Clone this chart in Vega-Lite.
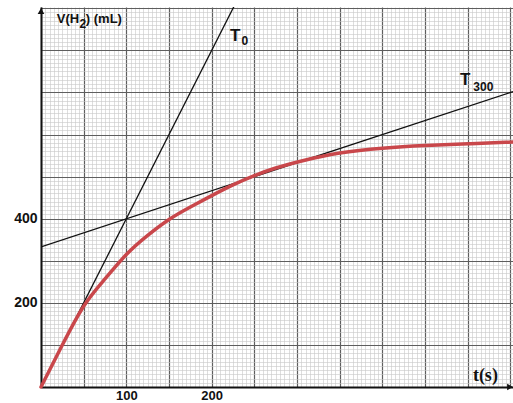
{
  "$schema": "https://vega.github.io/schema/vega-lite/v6.json",
  "width": 472,
  "height": 380,
  "autosize": {"type": "none"},
  "padding": {"left": 41, "top": 7, "right": 0, "bottom": 16},
  "background": "white",
  "config": {"view": {"stroke": null}},
  "datasets": {
    "curve": [
      {"t": 0, "v": 0}, {"t": 25, "v": 100}, {"t": 50, "v": 199}, {"t": 75, "v": 256},
      {"t": 100, "v": 318}, {"t": 125, "v": 361}, {"t": 150, "v": 400}, {"t": 175, "v": 428},
      {"t": 200, "v": 455}, {"t": 225, "v": 481}, {"t": 250, "v": 503}, {"t": 275, "v": 521},
      {"t": 300, "v": 535}, {"t": 350, "v": 558}, {"t": 400, "v": 568}, {"t": 450, "v": 574},
      {"t": 500, "v": 578}, {"t": 553, "v": 582}
    ],
    "tangents": [
      {"name": "T0", "t": 0, "v": 0}, {"name": "T0", "t": 226, "v": 904},
      {"name": "T300", "t": 0, "v": 333}, {"name": "T300", "t": 553, "v": 702}
    ]
  },
  "layer": [
    {
      "data": {"name": "tangents"},
      "mark": {"type": "line", "color": "#111111", "strokeWidth": 1.3, "clip": true},
      "encoding": {
        "x": {"field": "t", "type": "quantitative", "scale": {"domain": [0, 553], "nice": false},
          "axis": {"orient": "bottom", "title": null, "labels": false, "ticks": false, "domain": false,
            "grid": true, "gridColor": "#c8c8c8", "gridWidth": 0.6,
            "values": [5,10,15,20,25,30,35,40,45,55,60,65,70,75,80,85,90,95,105,110,115,120,125,130,135,140,145,155,160,165,170,175,180,185,190,195,205,210,215,220,225,230,235,240,245,255,260,265,270,275,280,285,290,295,305,310,315,320,325,330,335,340,345,355,360,365,370,375,380,385,390,395,405,410,415,420,425,430,435,440,445,455,460,465,470,475,480,485,490,495,505,510,515,520,525,530,535,540,545]}},
        "y": {"field": "v", "type": "quantitative", "scale": {"domain": [0, 903], "nice": false},
          "axis": {"orient": "left", "title": null, "labels": false, "ticks": false, "domain": false,
            "grid": true, "gridColor": "#c8c8c8", "gridWidth": 0.6,
            "values": [10,20,30,40,50,60,70,80,90,110,120,130,140,150,160,170,180,190,210,220,230,240,250,260,270,280,290,310,320,330,340,350,360,370,380,390,410,420,430,440,450,460,470,480,490,510,520,530,540,550,560,570,580,590,610,620,630,640,650,660,670,680,690,710,720,730,740,750,760,770,780,790,810,820,830,840,850,860,870,880,890]}},
        "detail": {"field": "name"}
      }
    },
    {
      "data": {"name": "curve"},
      "mark": {"type": "line", "color": "#c9474b", "strokeWidth": 3.5, "interpolate": "basis", "strokeCap": "round"},
      "encoding": {
        "x": {"field": "t", "type": "quantitative", "scale": {"domain": [0, 553], "nice": false},
          "axis": {"orient": "bottom", "title": null, "ticks": false, "domain": true, "domainColor": "#111111", "domainWidth": 2,
            "grid": true, "gridColor": "#5e5e5e", "gridWidth": 1.2,
            "values": [0,50,100,150,200,250,300,350,400,450,500,550],
            "labelExpr": "datum.value == 100 || datum.value == 200 ? datum.label : ''",
            "labelFont": "Liberation Sans", "labelFontWeight": "bold", "labelFontSize": 13, "labelColor": "#111111",
            "labelBaseline": "alphabetic", "labelPadding": 12}},
        "y": {"field": "v", "type": "quantitative", "scale": {"domain": [0, 903], "nice": false},
          "axis": {"orient": "left", "title": null, "ticks": false, "domain": true, "domainColor": "#111111", "domainWidth": 2,
            "grid": true, "gridColor": "#5e5e5e", "gridWidth": 1.2,
            "values": [0,100,200,300,400,500,600,700,800,900],
            "labelExpr": "datum.value == 200 || datum.value == 400 ? datum.label : ''",
            "labelFont": "Liberation Sans", "labelFontWeight": "bold", "labelFontSize": 14, "labelColor": "#111111", "labelPadding": 4}}
      }
    },
    {
      "data": {"values": [{"x": 221.4, "y": 822, "text": "T"}, {"x": 491, "y": 717, "text": "T"}]},
      "mark": {"type": "text", "font": "Liberation Sans", "fontWeight": "bold", "fontSize": 17, "align": "left", "baseline": "alphabetic", "color": "#111111"},
      "encoding": {
        "x": {"field": "x", "type": "quantitative", "scale": {"domain": [0, 553], "nice": false}, "axis": null},
        "y": {"field": "y", "type": "quantitative", "scale": {"domain": [0, 903], "nice": false}, "axis": null},
        "text": {"field": "text"}
      }
    },
    {
      "data": {"values": [{"x": 235, "y": 812, "text": "0"}, {"x": 506.5, "y": 703, "text": "300"}]},
      "mark": {"type": "text", "font": "Liberation Sans", "fontWeight": "bold", "fontSize": 12, "align": "left", "baseline": "alphabetic", "color": "#111111"},
      "encoding": {
        "x": {"field": "x", "type": "quantitative", "scale": {"domain": [0, 553], "nice": false}, "axis": null},
        "y": {"field": "y", "type": "quantitative", "scale": {"domain": [0, 903], "nice": false}, "axis": null},
        "text": {"field": "text"}
      }
    },
    {
      "data": {"values": [{"x": 18.4, "y": 865, "text": "V(H"}, {"x": 52.5, "y": 865, "text": ") (mL)"}]},
      "mark": {"type": "text", "font": "Liberation Sans", "fontWeight": "bold", "fontSize": 13, "align": "left", "baseline": "alphabetic", "color": "#111111"},
      "encoding": {
        "x": {"field": "x", "type": "quantitative", "scale": {"domain": [0, 553], "nice": false}, "axis": null},
        "y": {"field": "y", "type": "quantitative", "scale": {"domain": [0, 903], "nice": false}, "axis": null},
        "text": {"field": "text"}
      }
    },
    {
      "data": {"values": [{"x": 45, "y": 852, "text": "2"}]},
      "mark": {"type": "text", "font": "Liberation Sans", "fontWeight": "bold", "fontSize": 12, "align": "left", "baseline": "alphabetic", "color": "#111111"},
      "encoding": {
        "x": {"field": "x", "type": "quantitative", "scale": {"domain": [0, 553], "nice": false}, "axis": null},
        "y": {"field": "y", "type": "quantitative", "scale": {"domain": [0, 903], "nice": false}, "axis": null},
        "text": {"field": "text"}
      }
    },
    {
      "data": {"values": [{"x": 506, "y": 13.5, "text": "t(s)"}]},
      "mark": {"type": "text", "font": "Liberation Serif", "fontWeight": "bold", "fontSize": 18, "align": "left", "baseline": "alphabetic", "color": "#111111"},
      "encoding": {
        "x": {"field": "x", "type": "quantitative", "scale": {"domain": [0, 553], "nice": false}, "axis": null},
        "y": {"field": "y", "type": "quantitative", "scale": {"domain": [0, 903], "nice": false}, "axis": null},
        "text": {"field": "text"}
      }
    },
    {
      "data": {"values": [{"x": 0, "y": 893, "dir": "up"}]},
      "mark": {"type": "point", "shape": "triangle-up", "filled": true, "color": "#111111", "size": 45, "opacity": 1},
      "encoding": {
        "x": {"field": "x", "type": "quantitative", "scale": {"domain": [0, 553], "nice": false}, "axis": null},
        "y": {"field": "y", "type": "quantitative", "scale": {"domain": [0, 903], "nice": false}, "axis": null}
      }
    },
    {
      "data": {"values": [{"x": 549.5, "y": 0, "dir": "right"}]},
      "mark": {"type": "point", "shape": "triangle-right", "filled": true, "color": "#111111", "size": 45, "opacity": 1, "clip": false},
      "encoding": {
        "x": {"field": "x", "type": "quantitative", "scale": {"domain": [0, 553], "nice": false}, "axis": null},
        "y": {"field": "y", "type": "quantitative", "scale": {"domain": [0, 903], "nice": false}, "axis": null}
      }
    }
  ],
  "resolve": {"axis": {"x": "independent", "y": "independent"}}
}
